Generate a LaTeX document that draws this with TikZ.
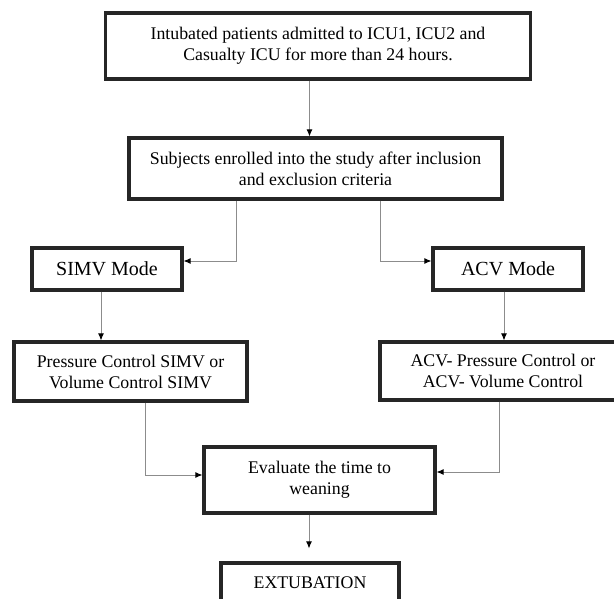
\documentclass[tikz,border=0pt]{standalone}
\usepackage{fontspec}
\setmainfont{Liberation Serif}
\usetikzlibrary{arrows.meta}
\usetikzlibrary{calc}

\tikzset{
  box/.style={draw=black!85,line width=3.2pt,fill=white,align=center,
    inner sep=0pt,font=\fontsize{17.8}{21}\selectfont},
  modebox/.style={box,font=\fontsize{20}{23}\selectfont},
  link/.style={draw=black!45,line width=0.9pt,
    -{Latex[length=7pt,width=6pt,black]}}
}

\begin{document}
\begin{tikzpicture}[x=1pt,y=-1pt]

		% Page frame
		\useasboundingbox (0,0) rectangle (614,599);

		% Boxes
		\node[box,minimum width=425,minimum height=66] (intub) at (318,46)
		{Intubated patients admitted to ICU1, ICU2 and\\Casualty ICU for more than 24 hours.};
		\node[box,minimum width=373,minimum height=61] (enrol) at (315.5,168.5)
		{Subjects enrolled into the study after inclusion\\and exclusion criteria};

		\node[modebox,minimum width=150,minimum height=42] (simv) at (107,269) {SIMV Mode};
		\node[modebox,minimum width=150,minimum height=42] (acv) at (508,269) {ACV Mode};

		\node[box,minimum width=233,minimum height=59] (pcsimv) at (130.5,371.5)
		{Pressure Control SIMV or\\Volume Control SIMV};
		\node[box,minimum width=246,minimum height=58] (acvpc) at (503,371)
		{ACV- Pressure Control or\\ACV- Volume Control};

		\node[box,minimum width=231,minimum height=66] (eval) at (319.5,480)
		{Evaluate the time to\\weaning};
		\node[box,minimum width=178,minimum height=40] (extub) at (310,583) {EXTUBATION};

		% Connectors
		\draw[link] ([xshift=-8.5pt]intub.south) -- ([xshift=-8.5pt]intub.south |- enrol.north);
		\draw[link] ([xshift=-79pt]enrol.south) |- ([yshift=8pt]simv.east);
		\draw[link] ([xshift=64.5pt]enrol.south) |- ([yshift=8pt]acv.west);
		\draw[link] ([xshift=-6pt]simv.south) -- ([xshift=-6pt]simv.south |- pcsimv.north);
		\draw[link] ([xshift=-4pt]acv.south) -- ([xshift=-4pt]acv.south |- acvpc.north);
		\draw[link] ([xshift=14.5pt]pcsimv.south) |- ([yshift=5pt]eval.west);
		\draw[link] ([xshift=-4pt]acvpc.south) |- ([yshift=8pt]eval.east);
		\draw[link,shorten >=13pt] ([xshift=-10.5pt]eval.south) -- ([xshift=-10.5pt]eval.south |- extub.north);

\end{tikzpicture}
\end{document}
